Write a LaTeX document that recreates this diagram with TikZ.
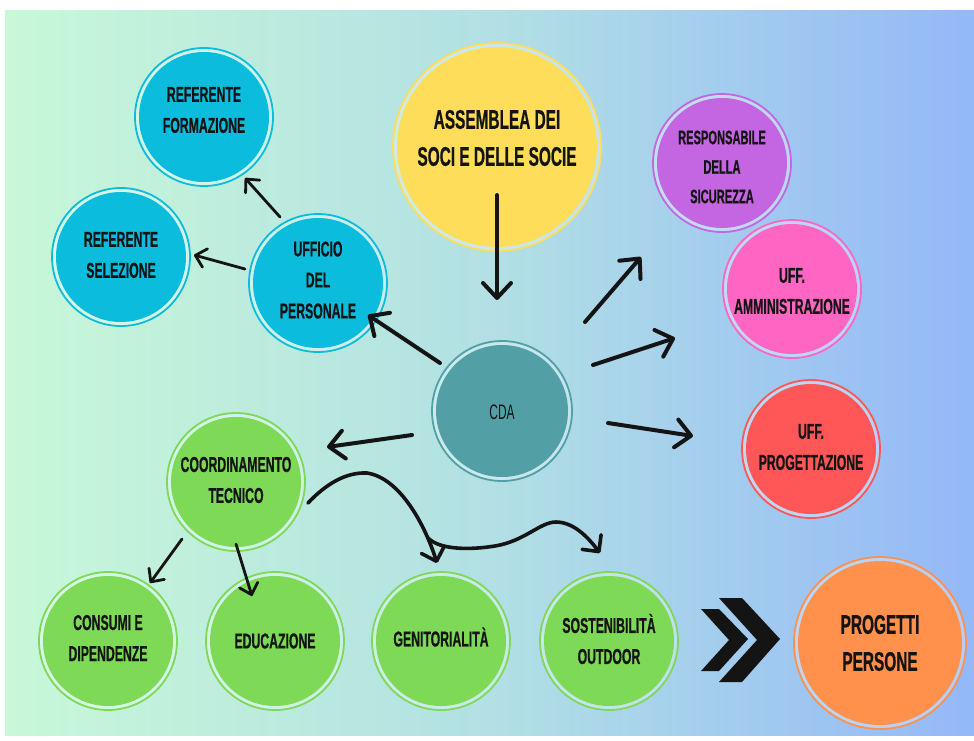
\documentclass[tikz,border=0pt]{standalone}
\usepackage{fontspec}
\newfontfamily\bebas{Liberation Sans}[FakeStretch=0.57, BoldFeatures={FakeBold=0.6}]
\usetikzlibrary{arrows.meta,calc}
\definecolor{bgL}{RGB}{200,248,216}
\definecolor{bgM}{RGB}{178,224,228}
\definecolor{bgR}{RGB}{148,184,248}
\definecolor{cyanB}{RGB}{12,188,220}
\definecolor{yellowB}{RGB}{254,221,90}
\definecolor{tealB}{RGB}{82,160,166}
\definecolor{purpleB}{RGB}{196,102,226}
\definecolor{pinkB}{RGB}{255,102,196}
\definecolor{redB}{RGB}{255,87,87}
\definecolor{greenB}{RGB}{126,217,87}
\definecolor{orangeB}{RGB}{255,145,77}
\definecolor{ink}{RGB}{20,20,20}
\tikzset{
  disc/.style={circle, inner sep=0pt, outer sep=0pt},
  txt/.style={text=ink, align=center, inner sep=0pt},
  fbig/.style={font=\bebas\bfseries\fontsize{27}{37}\selectfont},
  fmid/.style={font=\bebas\bfseries\fontsize{21.5}{31}\selectfont},
  fsmall/.style={font=\bebas\bfseries\fontsize{19.5}{29.5}\selectfont},
  fcda/.style={font=\bebas\fontsize{21}{24}\selectfont},
  arr/.style={draw=ink, line width=4pt, line cap=round, -{Straight Barb[length=15pt,width=28pt,round]}},
  arrs/.style={draw=ink, line width=2.8pt, line cap=round, -{Straight Barb[length=10pt,width=19pt,round]}},
  arrc/.style={draw=ink, line width=3.6pt, line cap=round, -{Straight Barb[length=12pt,width=24pt,round]}},
  ring/.style={line width=1.8pt},
}
% name, x, y, fill radius, colour, font style, text y-offset, text
\newcommand\bub[8]{%
  \fill[white, opacity=.3] (#2,#3) circle[radius={#4pt+4pt}];
  \node[disc, fill=#5, minimum size={2*#4pt}] (#1) at (#2,#3) {};
  \draw[#5, ring] (#1.center) circle[radius={#4pt+4pt}];
  \node[txt, #6] (#1-t) at ($(#1.center)+(0,#7)$) {#8};
}
\begin{document}
\begin{tikzpicture}[x=1pt,y=-1pt]
\useasboundingbox (0,0) rectangle (974,740);
\fill[white] (0,0) rectangle (974,740);
\shade[left color=bgL, right color=bgR, middle color=bgM] (5,10) rectangle (974,735);

\bub{asm}{497}{147}{100}{yellowB}{fbig}{-9}{ASSEMBLEA DEI\\SOCI E DELLE SOCIE}
\bub{rf}{204}{117}{65}{cyanB}{fmid}{-7}{REFERENTE\\FORMAZIONE}
\bub{rs}{121}{257}{65}{cyanB}{fmid}{-2}{REFERENTE\\SELEZIONE}
\bub{up}{318}{283}{65}{cyanB}{fmid}{-3}{UFFICIO\\DEL\\PERSONALE}
\bub{cda}{502}{411}{66}{tealB}{fcda}{1}{CDA}
\bub{sic}{722}{163}{65}{purpleB}{fsmall}{4}{RESPONSABILE\\DELLA\\SICUREZZA}
\bub{amm}{792}{289}{65}{pinkB}{fmid}{2}{UFF.\\AMMINISTRAZIONE}
\bub{prog}{811}{449}{65}{redB}{fmid}{-2}{UFF.\\PROGETTAZIONE}
\bub{coord}{236}{482}{65}{greenB}{fmid}{-2}{COORDINAMENTO\\TECNICO}
\bub{cons}{108}{641}{65}{greenB}{fmid}{-3}{CONSUMI E\\DIPENDENZE}
\bub{edu}{275}{641}{65}{greenB}{fmid}{0}{EDUCAZIONE}
\bub{gen}{441}{641}{65}{greenB}{fmid}{-4}{GENITORIALITÀ}
\bub{sost}{609}{641}{65}{greenB}{fmid}{-2}{SOSTENIBILITÀ\\OUTDOOR}
\bub{pp}{880}{643}{82}{orangeB}{fbig}{0}{PROGETTI\\PERSONE}

% straight arrows
\draw[arr] ([shift={(0,48)}]asm.center) -- ([shift={(-5,-111)}]cda.center);
\draw[arr] ([shift={(-62,-48)}]cda.center) -- ([shift={(50,32)}]up.center);
\draw[arr] ([shift={(-90,24)}]cda.center) -- ([shift={(91,-35)}]coord.center);
\draw[arr] ([shift={(83,-89)}]cda.center) -- ([shift={(-81,94)}]sic.center);
\draw[arr] ([shift={(91,-46)}]cda.center) -- ([shift={(-117,49)}]amm.center);
\draw[arr] ([shift={(106,12)}]cda.center) -- ([shift={(-118,-13)}]prog.center);
\draw[arrs] ([shift={(-38,-66)}]up.center) -- ([shift={(41,61)}]rf.center);
\draw[arrs] ([shift={(-73,-14)}]up.center) -- ([shift={(73,-2)}]rs.center);
\draw[arrs] ([shift={(-54,57)}]coord.center) -- ([shift={(42,-58)}]cons.center);
\draw[arrs] ([shift={(0,62)}]coord.center) -- ([shift={(-23,-45)}]edu.center);

% curved arrows
\coordinate (c1s) at ([shift={(72,21)}]coord.center);
\coordinate (c1e) at ([shift={(-4,-78)}]gen.center);
\coordinate (c2s) at ([shift={(-13,-103)}]gen.center);
\coordinate (c2e) at ([shift={(-9,-88)}]sost.center);
\draw[arrc] (c1s) .. controls (325,485) and (345,472) .. (367,473)
  .. controls (400,478) and (425,525) .. (c1e);
\draw[arrc] (c2s) .. controls (440,550) and (470,550) .. (495,546)
  .. controls (525,541) and (540,522) .. (556,522)
  .. controls (575,522) and (590,540) .. (c2e);

% chevrons
\fill[ink] (701,609) -- (719,609) -- (748,639) -- (719,671) -- (701,671) -- (729,640) -- cycle;
\fill[ink] (719,598) -- (742,598) -- (780,639) -- (742,682) -- (719,682) -- (757,640) -- cycle;
\end{tikzpicture}
\end{document}
